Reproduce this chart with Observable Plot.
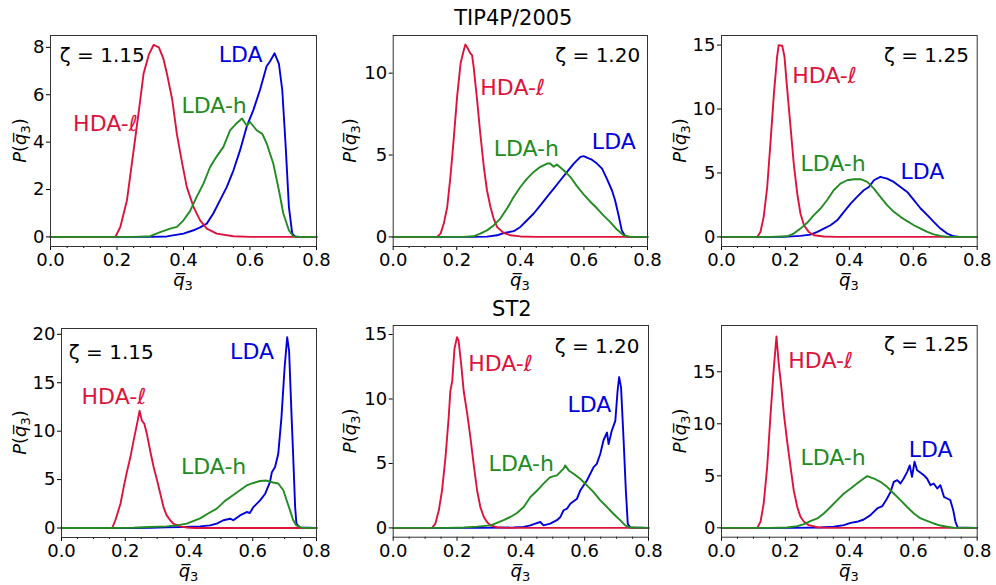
<!DOCTYPE html>
<html><head><meta charset="utf-8">
<script src="https://cdn.jsdelivr.net/npm/d3@7"></script>
<script src="https://cdn.jsdelivr.net/npm/@observablehq/plot@0.6"></script>
<style>
body{margin:0;background:#fff;}
#chart{position:relative;width:996px;height:585px;font-family:"DejaVu Sans",sans-serif;}
#chart svg{position:absolute;overflow:visible;}
</style></head><body><div id="chart"></div>
<script>
// ---------- categories & ticks ----------
const models = ["TIP4P/2005", "ST2"];
const zetas = ["1.15", "1.20", "1.25"];
const seriesNames = ["HDA-ℓ", "LDA-h", "LDA"];
const xMajor = [0, 0.2, 0.4, 0.6, 0.8];
const xMinor = [0.05, 0.1, 0.15, 0.25, 0.3, 0.35, 0.45, 0.5, 0.55, 0.65, 0.7, 0.75];
const yTicksTip115 = [0, 2, 4, 6, 8];
const yTicksTip120 = [0, 5, 10];
const yTicksTip125 = [0, 5, 10, 15];
const yTicksSt115 = [0, 5, 10, 15, 20];
const yTicksSt120 = [0, 5, 10, 15];
const yTicksSt125 = [0, 5, 10, 15];

// ---------- TIP4P/2005, zeta = 1.15 ----------
const tip115_hda_x = [0, 0.195, 0.21, 0.23, 0.25, 0.266, 0.28, 0.296, 0.31, 0.326, 0.34, 0.35, 0.366, 0.38, 0.396, 0.41, 0.43, 0.45, 0.47, 0.5, 0.55, 0.6, 0.8];
const tip115_hda_y = [0, 0, 0.42, 1.55, 3.65, 5.35, 6.9, 7.7, 8.1, 8.0, 7.5, 6.9, 5.8, 4.35, 3.1, 2.1, 1.27, 0.7, 0.35, 0.14, 0.03, 0, 0];
const tip115_ldah_x = [0, 0.25, 0.3, 0.33, 0.36, 0.38, 0.4, 0.42, 0.44, 0.46, 0.48, 0.5, 0.52, 0.54, 0.56, 0.576, 0.59, 0.6, 0.62, 0.637, 0.65, 0.67, 0.687, 0.7, 0.717, 0.73, 0.75, 0.8];
const tip115_ldah_y = [0, 0, 0.03, 0.2, 0.35, 0.42, 0.7, 1.1, 1.7, 2.25, 2.95, 3.4, 3.8, 4.5, 4.8, 5.0, 4.7, 4.85, 4.5, 4.35, 3.95, 3.1, 1.97, 1.0, 0.28, 0.03, 0, 0];
const tip115_lda_x = [0, 0.3, 0.35, 0.4, 0.43, 0.45, 0.47, 0.49, 0.51, 0.53, 0.55, 0.57, 0.59, 0.61, 0.63, 0.65, 0.66, 0.674, 0.687, 0.697, 0.707, 0.717, 0.727, 0.737, 0.8];
const tip115_lda_y = [0, 0, 0.02, 0.14, 0.28, 0.4, 0.56, 1.0, 1.55, 2.1, 2.8, 3.65, 4.65, 5.35, 6.2, 7.2, 7.4, 7.75, 7.3, 6.2, 3.9, 1.27, 0.14, 0, 0];

// ---------- TIP4P/2005, zeta = 1.20 ----------
const tip120_hda_x = [0, 0.138, 0.149, 0.159, 0.17, 0.18, 0.19, 0.201, 0.212, 0.222, 0.227, 0.235, 0.243, 0.248, 0.253, 0.264, 0.274, 0.285, 0.295, 0.306, 0.316, 0.327, 0.348, 0.369, 0.4, 0.45, 0.8];
const tip120_hda_y = [0, 0, 0.2, 0.8, 1.83, 3.67, 5.9, 8.55, 10.6, 11.4, 11.75, 11.5, 11.2, 11.1, 10.4, 8.35, 6.3, 4.3, 2.85, 1.83, 1.12, 0.6, 0.24, 0.1, 0.03, 0, 0];
const tip120_ldah_x = [0, 0.22, 0.253, 0.274, 0.295, 0.316, 0.337, 0.358, 0.379, 0.4, 0.421, 0.442, 0.463, 0.484, 0.494, 0.505, 0.515, 0.536, 0.557, 0.578, 0.599, 0.62, 0.641, 0.662, 0.683, 0.704, 0.725, 0.746, 0.8];
const tip120_ldah_y = [0, 0, 0.04, 0.2, 0.4, 0.7, 1.12, 1.73, 2.44, 3.05, 3.56, 3.97, 4.28, 4.48, 4.48, 4.28, 4.42, 4.07, 3.67, 3.1, 2.6, 2.15, 1.75, 1.3, 0.9, 0.45, 0.1, 0, 0];
const tip120_lda_x = [0, 0.253, 0.295, 0.327, 0.348, 0.379, 0.4, 0.421, 0.442, 0.463, 0.484, 0.505, 0.526, 0.547, 0.568, 0.589, 0.599, 0.615, 0.625, 0.641, 0.657, 0.672, 0.688, 0.698, 0.709, 0.719, 0.73, 0.74, 0.8];
const tip120_lda_y = [0, 0, 0.02, 0.1, 0.24, 0.35, 0.61, 1.02, 1.43, 1.93, 2.44, 2.95, 3.46, 3.97, 4.48, 4.89, 4.93, 4.79, 4.72, 4.48, 4.17, 3.56, 2.85, 2.24, 1.32, 0.4, 0.04, 0, 0];

// ---------- TIP4P/2005, zeta = 1.25 ----------
const tip125_hda_x = [0, 0.112, 0.122, 0.132, 0.143, 0.153, 0.164, 0.174, 0.179, 0.19, 0.197, 0.205, 0.216, 0.226, 0.237, 0.247, 0.258, 0.273, 0.289, 0.32, 0.36, 0.8];
const tip125_hda_y = [0, 0, 0.4, 1.57, 3.9, 7.3, 11.2, 14.1, 15.0, 14.95, 14.1, 11.7, 8.6, 5.74, 3.39, 1.83, 0.91, 0.39, 0.13, 0.03, 0, 0];
const tip125_ldah_x = [0, 0.153, 0.205, 0.226, 0.247, 0.268, 0.289, 0.31, 0.33, 0.351, 0.372, 0.393, 0.414, 0.435, 0.456, 0.477, 0.497, 0.518, 0.539, 0.56, 0.581, 0.602, 0.623, 0.644, 0.664, 0.685, 0.71, 0.8];
const tip125_ldah_y = [0, 0, 0.05, 0.26, 0.65, 1.1, 1.7, 2.22, 2.87, 3.65, 4.17, 4.43, 4.51, 4.51, 4.3, 3.78, 3.13, 2.48, 1.96, 1.57, 1.23, 0.91, 0.65, 0.39, 0.2, 0.08, 0, 0];
const tip125_lda_x = [0, 0.195, 0.247, 0.278, 0.3, 0.32, 0.341, 0.362, 0.383, 0.404, 0.424, 0.445, 0.461, 0.477, 0.497, 0.518, 0.539, 0.56, 0.581, 0.602, 0.623, 0.644, 0.664, 0.685, 0.706, 0.727, 0.745, 0.8];
const tip125_lda_y = [0, 0, 0.08, 0.18, 0.39, 0.65, 0.91, 1.3, 1.96, 2.6, 3.13, 3.65, 3.9, 4.43, 4.7, 4.56, 4.3, 3.91, 3.52, 2.87, 2.22, 1.7, 1.17, 0.65, 0.26, 0.05, 0, 0];

// ---------- ST2, zeta = 1.15 ----------
const st115_hda_x = [0, 0.159, 0.169, 0.185, 0.195, 0.205, 0.216, 0.226, 0.237, 0.245, 0.252, 0.26, 0.268, 0.278, 0.289, 0.3, 0.31, 0.32, 0.33, 0.341, 0.351, 0.372, 0.393, 0.42, 0.8];
const st115_hda_y = [0, 0, 0.8, 2.5, 4.2, 5.77, 7.3, 9.0, 10.75, 12.1, 11.1, 10.75, 9.7, 8.0, 6.3, 4.9, 3.54, 2.16, 1.3, 0.8, 0.45, 0.17, 0.05, 0, 0];
const st115_ldah_x = [0, 0.122, 0.226, 0.278, 0.33, 0.362, 0.393, 0.435, 0.46, 0.487, 0.513, 0.539, 0.56, 0.581, 0.602, 0.623, 0.643, 0.664, 0.68, 0.696, 0.706, 0.717, 0.727, 0.737, 0.753, 0.8];
const st115_ldah_y = [0, 0, 0.03, 0.1, 0.17, 0.27, 0.45, 1.0, 1.5, 2.0, 2.8, 3.4, 3.9, 4.4, 4.65, 4.85, 4.9, 4.7, 4.6, 3.9, 2.9, 1.82, 0.8, 0.27, 0.03, 0];
const st115_lda_x = [0, 0.226, 0.278, 0.33, 0.383, 0.435, 0.466, 0.487, 0.508, 0.529, 0.539, 0.56, 0.581, 0.591, 0.602, 0.623, 0.639, 0.654, 0.66, 0.67, 0.68, 0.69, 0.7, 0.708, 0.714, 0.722, 0.727, 0.733, 0.737, 0.748, 0.8];
const st115_lda_y = [0, 0, 0.03, 0.07, 0.1, 0.17, 0.27, 0.45, 0.8, 0.96, 0.8, 1.3, 1.65, 1.55, 2.16, 2.85, 3.54, 4.74, 5.77, 6.3, 7.66, 11.4, 16.6, 19.7, 18.3, 11.4, 7.3, 2.16, 0.45, 0.05, 0];

// ---------- ST2, zeta = 1.20 ----------
const st120_hda_x = [0, 0.122, 0.132, 0.143, 0.153, 0.164, 0.174, 0.179, 0.185, 0.192, 0.2, 0.205, 0.213, 0.221, 0.232, 0.242, 0.252, 0.263, 0.273, 0.284, 0.294, 0.305, 0.325, 0.35, 0.8];
const st120_hda_y = [0, 0, 0.33, 1.37, 2.9, 5.5, 8.6, 10.6, 11.4, 13.9, 14.8, 14.5, 12.7, 10.6, 8.84, 7.0, 4.97, 2.9, 1.62, 0.85, 0.46, 0.2, 0.05, 0, 0];
const st120_ldah_x = [0, 0.169, 0.221, 0.263, 0.305, 0.325, 0.346, 0.367, 0.388, 0.409, 0.43, 0.451, 0.471, 0.492, 0.513, 0.534, 0.539, 0.55, 0.565, 0.586, 0.607, 0.628, 0.649, 0.67, 0.69, 0.711, 0.727, 0.743, 0.8];
const st120_ldah_y = [0, 0, 0.03, 0.1, 0.2, 0.39, 0.6, 0.85, 1.16, 1.62, 2.4, 2.9, 3.43, 3.94, 4.07, 4.6, 4.85, 4.46, 4.2, 3.81, 3.3, 2.78, 2.14, 1.62, 1.1, 0.6, 0.2, 0.03, 0];
const st120_lda_x = [0, 0.273, 0.377, 0.409, 0.43, 0.445, 0.461, 0.471, 0.492, 0.513, 0.524, 0.534, 0.545, 0.555, 0.576, 0.586, 0.607, 0.628, 0.638, 0.649, 0.659, 0.67, 0.675, 0.685, 0.696, 0.703, 0.708, 0.714, 0.722, 0.729, 0.735, 0.743, 0.8];
const st120_lda_y = [0, 0, 0.03, 0.08, 0.2, 0.33, 0.46, 0.2, 0.33, 0.6, 0.85, 1.37, 1.5, 1.88, 2.27, 2.9, 3.68, 4.72, 4.97, 5.75, 6.8, 7.4, 6.5, 7.55, 8.3, 10.6, 11.7, 10.9, 6.8, 2.9, 0.33, 0.03, 0];

// ---------- ST2, zeta = 1.25 ----------
const st125_hda_x = [0, 0.112, 0.122, 0.132, 0.143, 0.153, 0.164, 0.172, 0.179, 0.187, 0.195, 0.205, 0.216, 0.226, 0.237, 0.247, 0.258, 0.273, 0.3, 0.33, 0.8];
const st125_hda_y = [0, 0, 0.58, 2.34, 5.87, 10.7, 15.5, 18.4, 15.8, 13.6, 11.0, 8.4, 5.87, 3.6, 2.0, 1.06, 0.58, 0.26, 0.06, 0, 0];
const st125_ldah_x = [0, 0.153, 0.205, 0.237, 0.258, 0.278, 0.3, 0.32, 0.341, 0.362, 0.383, 0.404, 0.424, 0.445, 0.456, 0.477, 0.497, 0.518, 0.539, 0.56, 0.581, 0.602, 0.623, 0.643, 0.664, 0.685, 0.706, 0.73, 0.8];
const st125_ldah_y = [0, 0, 0.03, 0.16, 0.35, 0.64, 0.9, 1.38, 2.0, 2.66, 3.3, 3.78, 4.26, 4.74, 4.97, 4.74, 4.42, 3.94, 3.3, 2.66, 2.0, 1.38, 0.9, 0.67, 0.42, 0.22, 0.1, 0, 0];
const st125_lda_x = [0, 0.226, 0.31, 0.351, 0.383, 0.404, 0.424, 0.445, 0.466, 0.487, 0.503, 0.518, 0.529, 0.539, 0.55, 0.56, 0.57, 0.581, 0.589, 0.596, 0.604, 0.612, 0.623, 0.633, 0.643, 0.654, 0.664, 0.675, 0.685, 0.696, 0.706, 0.716, 0.725, 0.732, 0.739, 0.8];
const st125_lda_y = [0, 0, 0.03, 0.1, 0.26, 0.48, 0.58, 0.8, 1.22, 1.86, 2.08, 2.82, 3.46, 4.42, 4.58, 4.26, 4.74, 5.38, 6.0, 4.9, 6.35, 5.54, 5.29, 5.06, 4.74, 4.1, 4.26, 3.78, 4.1, 2.98, 2.82, 2.66, 1.7, 0.58, 0.03, 0];

// ---------- styles ----------
const colorHDA = "#dc143c", colorLDAh = "#228b22", colorLDA = "#0000dd";
const FONT = "DejaVu Sans";

const panels = [
  {model: 0, zeta: 0, cell: [0, 0, 330, 290], frame: [50, 316, 35, 246], yDomain: [-0.405, 8.5], yTicks: yTicksTip115,
   hda: [tip115_hda_x, tip115_hda_y], ldah: [tip115_ldah_x, tip115_ldah_y], lda: [tip115_lda_x, tip115_lda_y],
   labelPos: [[0.068, 4.78], [0.394, 5.51], [0.506, 7.67]], zetaPos: [0.028, 7.67], zetaAnchor: "start", title: false},
  {model: 0, zeta: 1, cell: [330, 0, 330, 290], frame: [392.7, 647, 35, 246], yDomain: [-0.585, 12.3], yTicks: yTicksTip120,
   hda: [tip120_hda_x, tip120_hda_y], ldah: [tip120_ldah_x, tip120_ldah_y], lda: [tip120_lda_x, tip120_lda_y],
   labelPos: [[0.274, 9.12], [0.316, 5.4], [0.625, 5.8]], zetaPos: [0.777, 11.1], zetaAnchor: "end", title: true, titleShift: [-7, -17.5]},
  {model: 0, zeta: 2, cell: [660, 0, 336, 290], frame: [721, 976.7, 35, 246], yDomain: [-0.75, 15.75], yTicks: yTicksTip125,
   hda: [tip125_hda_x, tip125_hda_y], ldah: [tip125_ldah_x, tip125_ldah_y], lda: [tip125_lda_x, tip125_lda_y],
   labelPos: [[0.221, 12.6], [0.247, 5.74], [0.56, 5.09]], zetaPos: [0.774, 14.2], zetaAnchor: "end", title: false},
  {model: 1, zeta: 0, cell: [0, 290, 330, 295], frame: [61, 316, 328, 537], yDomain: [-0.98, 20.6], yTicks: yTicksSt115,
   hda: [st115_hda_x, st115_hda_y], ldah: [st115_ldah_x, st115_ldah_y], lda: [st115_lda_x, st115_lda_y],
   labelPos: [[0.063, 13.5], [0.375, 6.3], [0.529, 18.2]], zetaPos: [0.023, 18.1], zetaAnchor: "start", title: false},
  {model: 1, zeta: 1, cell: [330, 290, 330, 295], frame: [392.7, 648, 325, 536.7], yDomain: [-0.72, 15.7], yTicks: yTicksSt120,
   hda: [st120_hda_x, st120_hda_y], ldah: [st120_ldah_x, st120_ldah_y], lda: [st120_lda_x, st120_lda_y],
   labelPos: [[0.235, 12.7], [0.299, 5.0], [0.546, 9.5]], zetaPos: [0.772, 14.1], zetaAnchor: "end", title: true, titleShift: [-9, -16]},
  {model: 1, zeta: 2, cell: [660, 290, 336, 295], frame: [721, 976.7, 325, 536.7], yDomain: [-0.9, 19.45], yTicks: yTicksSt125,
   hda: [st125_hda_x, st125_hda_y], ldah: [st125_ldah_x, st125_ldah_y], lda: [st125_lda_x, st125_lda_y],
   labelPos: [[0.209, 16.0], [0.247, 6.67], [0.586, 7.53]], zetaPos: [0.774, 17.6], zetaAnchor: "end", title: false}
];

function toRows(xs, ys) { return xs.map((x, i) => ({x, y: ys[i]})); }

const chart = document.getElementById("chart");

for (const p of panels) {
  const [cx, cy, cw, ch] = p.cell;
  const [fl, fr, ft, fb] = p.frame;
  const colors = [colorHDA, colorLDAh, colorLDA];
  const labels = seriesNames.map((s, i) => ({text: s, x: p.labelPos[i][0], y: p.labelPos[i][1], color: colors[i]}));
  const marks = [
    Plot.axisX({ticks: xMajor, tickSize: 4, tickPadding: 3, tickFormat: d3.format(".1f"), label: null}),
    Plot.axisX({ticks: xMinor, tickSize: 2, tickFormat: () => "", label: null}),
    Plot.axisY({ticks: p.yTicks, tickSize: 4, tickPadding: 2, label: null}),
    Plot.line(toRows(...p.lda), {x: "x", y: "y", stroke: colorLDA, strokeWidth: 1.9}),
    Plot.line(toRows(...p.hda), {x: "x", y: "y", stroke: colorHDA, strokeWidth: 1.9}),
    Plot.line(toRows(...p.ldah), {x: "x", y: "y", stroke: colorLDAh, strokeWidth: 1.9}),
    Plot.frame({stroke: "#333", strokeWidth: 1}),
    Plot.text(labels, {x: "x", y: "y", text: "text", fill: d => d.color, fontSize: 22, textAnchor: "start", lineAnchor: "middle"}),
    Plot.text([`ζ = ${zetas[p.zeta]}`], {x: () => p.zetaPos[0], y: () => p.zetaPos[1], text: d => d, fill: "#000", fontSize: 20, textAnchor: p.zetaAnchor, lineAnchor: "middle"})
  ];
  if (p.title) {
    marks.push(Plot.text([models[p.model]], {frameAnchor: "top", text: d => d, fontSize: 21, fill: "#000",
      dx: p.titleShift[0], dy: p.titleShift[1], lineAnchor: "middle"}));
  }
  const svg = Plot.plot({
    width: cw, height: ch,
    marginLeft: fl - cx, marginRight: cx + cw - fr, marginTop: ft - cy, marginBottom: cy + ch - fb,
    x: {domain: [0, 0.8]},
    y: {domain: p.yDomain},
    style: {fontFamily: FONT, fontSize: "18px", color: "#000", background: "transparent", overflow: "visible"},
    marks
  });
  svg.style.left = cx + "px";
  svg.style.top = cy + "px";
  const s = d3.select(svg);
  // y-axis label P(q̄3)
  const yl = s.append("text")
    .attr("transform", `translate(26,${(ft + fb) / 2 - cy}) rotate(-90)`)
    .attr("text-anchor", "middle").attr("font-size", 18).attr("fill", "#000");
  yl.append("tspan").attr("font-style", "italic").text("P");
  yl.append("tspan").text("(");
  yl.append("tspan").attr("font-style", "italic").text("q\u0305");
  yl.append("tspan").attr("font-size", 13).attr("dy", 4).text("3");
  yl.append("tspan").attr("dy", -4).text(")");
  // x-axis label q̄3
  const xl = s.append("text")
    .attr("x", (fl + fr) / 2 - cx).attr("y", fb - cy + 40)
    .attr("text-anchor", "middle").attr("font-size", 18).attr("fill", "#000");
  xl.append("tspan").attr("font-style", "italic").text("q\u0305");
  xl.append("tspan").attr("font-size", 13).attr("dy", 4).text("3");
  chart.appendChild(svg);
}
</script></body></html>
